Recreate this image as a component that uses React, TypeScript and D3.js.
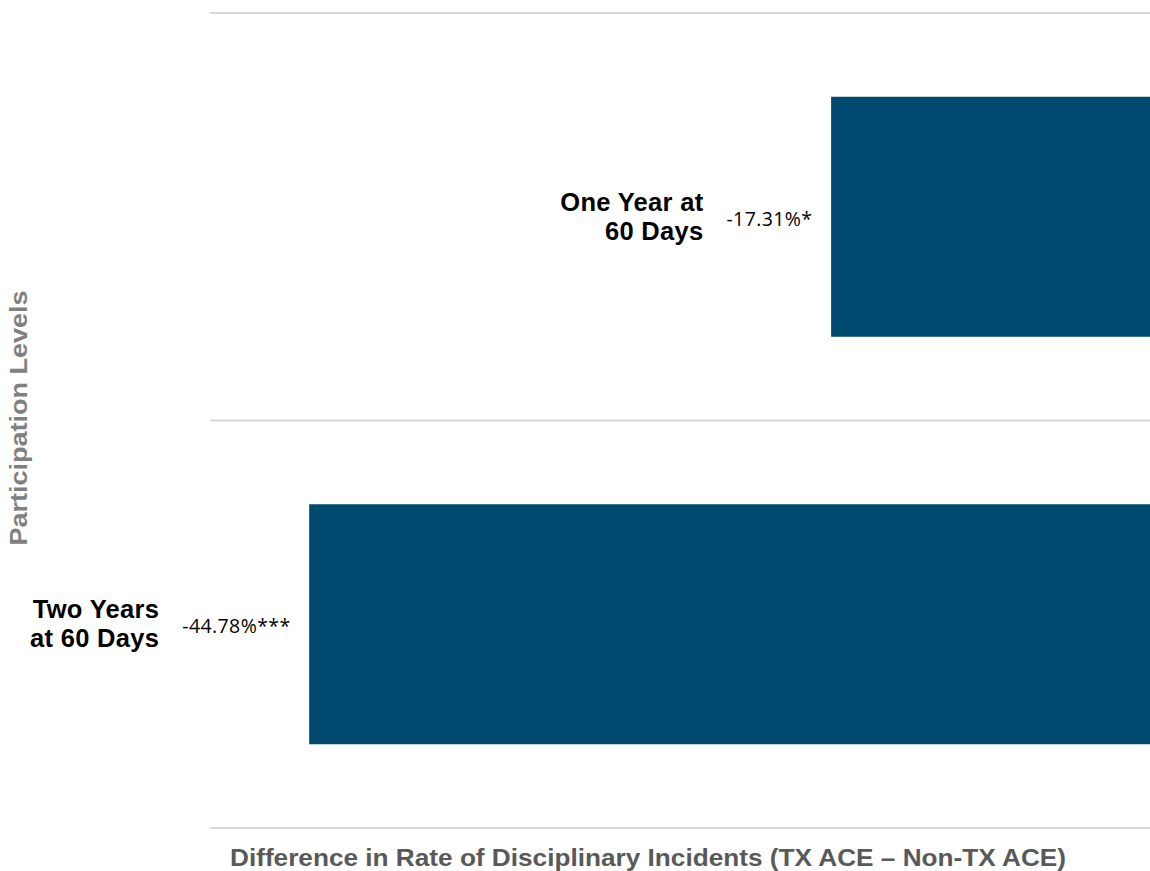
import React, { useEffect, useRef } from "react";
import * as d3 from "d3";

const categories = ["One Year at 60 Days", "Two Years at 60 Days"];
const categoryLines = [
  ["One Year at", "60 Days"],
  ["Two Years", "at 60 Days"],
];
const values = [-17.31, -44.78];
const valueLabels = ["-17.31%*", "-44.78%***"];
const xDomain = [-50, 0];
const xTitle = "Difference in Rate of Disciplinary Incidents (TX ACE \u2013 Non-TX ACE)";
const yTitle = "Participation Levels";

const W = 1150;
const H = 871;

export default function App() {
  const ref = useRef<SVGSVGElement>(null);

  useEffect(() => {
    const svg = d3.select(ref.current);
    svg.selectAll("*").remove();

    const x = d3.scaleLinear().domain(xDomain).range([210, 1160]);
    const y = d3.scaleBand<string>().domain(categories).range([13, 828]).padding(0);

    const bounds = [...categories.map((c) => y(c) as number), y.range()[1]];
    svg
      .append("g")
      .selectAll("line")
      .data(bounds)
      .join("line")
      .attr("x1", x(xDomain[0]))
      .attr("x2", x(xDomain[1]))
      .attr("y1", (d) => d)
      .attr("y2", (d) => d)
      .attr("stroke", "#d9d9d9")
      .attr("stroke-width", 2);

    const frac = 0.589;
    const bw = y.bandwidth();
    const data = categories.map((c, i) => ({ c, v: values[i], label: valueLabels[i], lines: categoryLines[i] }));

    svg
      .append("g")
      .selectAll("rect")
      .data(data)
      .join("rect")
      .attr("x", (d) => x(Math.min(0, d.v)))
      .attr("width", (d) => Math.abs(x(d.v) - x(0)))
      .attr("y", (d) => (y(d.c) as number) + (bw * (1 - frac)) / 2)
      .attr("height", bw * frac)
      .attr("fill", "#004a6f");

    data.forEach((d) => {
      const cy = (y(d.c) as number) + bw / 2;
      const vt = svg
        .append("text")
        .attr("y", cy + 9)
        .attr("font-family", "'Open Sans', sans-serif")
        .attr("font-size", 19.5)
        .attr("letter-spacing", 0.4)
        .attr("fill", "#000")
        .text(d.label);
      const vw = (vt.node() as SVGTextElement).getComputedTextLength() - 0.4;
      const vx = x(d.v) - 19 - vw;
      vt.attr("x", vx);

      const ct = svg
        .append("text")
        .attr("font-family", "'Liberation Sans', Arial, sans-serif")
        .attr("font-weight", "bold")
        .attr("font-size", 25.5)
        .attr("letter-spacing", 0.3)
        .attr("text-anchor", "end")
        .attr("fill", "#000");
      ct.selectAll("tspan")
        .data(d.lines)
        .join("tspan")
        .attr("x", vx - 23)
        .attr("y", (_, i) => cy - 6 + i * 29)
        .text((t) => t);
    });

    svg
      .append("text")
      .attr("x", 648)
      .attr("y", 866)
      .attr("text-anchor", "middle")
      .attr("font-family", "'Liberation Sans', Arial, sans-serif")
      .attr("font-weight", "bold")
      .attr("font-size", 24)
      .attr("fill", "#595959")
      .attr("textLength", 836)
      .attr("lengthAdjust", "spacingAndGlyphs")
      .text(xTitle);

    svg
      .append("text")
      .attr("transform", "translate(27,418) rotate(-90)")
      .attr("text-anchor", "middle")
      .attr("font-family", "'Liberation Sans', Arial, sans-serif")
      .attr("font-weight", "bold")
      .attr("font-size", 24)
      .attr("fill", "#808080")
      .attr("textLength", 255)
      .attr("lengthAdjust", "spacingAndGlyphs")
      .text(yTitle);
  }, []);

  return (
    <svg
      ref={ref}
      width={W}
      height={H}
      style={{ position: "fixed", left: 0, top: 0, background: "#fff" }}
    />
  );
}
